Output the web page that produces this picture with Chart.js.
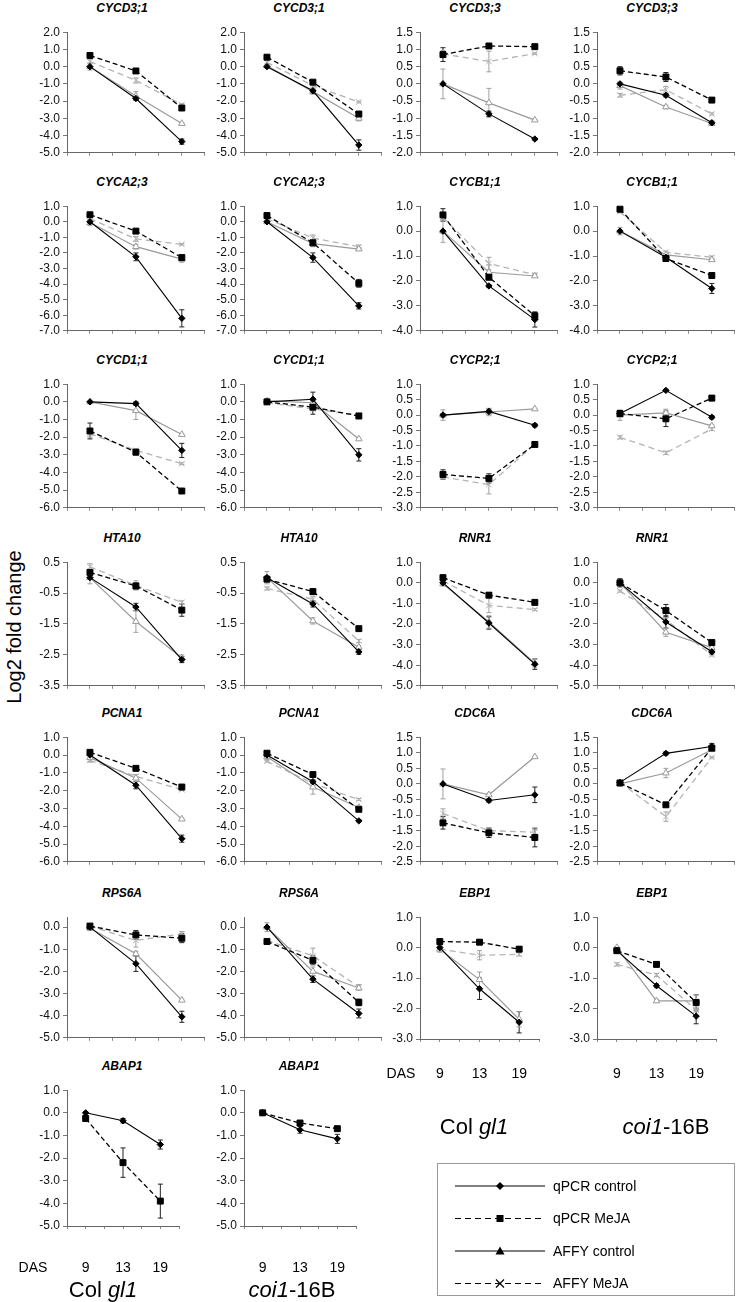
<!DOCTYPE html>
<html>
<head>
<meta charset="utf-8">
<script src="https://cdn.jsdelivr.net/npm/chart.js@4.4.1/dist/chart.umd.min.js"></script>
<style>
  body { margin: 0; background: #fff; font-family: "Liberation Sans", Arial, sans-serif; }
  #wrap { position: relative; width: 740px; height: 1302px; overflow: hidden; }
  canvas { position: absolute; }
  .title { position: absolute; width: 120px; text-align: center; font: bold italic 12px "Liberation Sans", Arial, sans-serif; line-height: 16px; }
  .lbl { position: absolute; white-space: nowrap; transform: translate(-50%, -50%); color: #000; }
  .das { font-size: 14px; }
  .grp { font-size: 22px; }
  #ylab { position: absolute; left: 14px; top: 627px; font-size: 20px; white-space: nowrap; transform: translate(-50%, -50%) rotate(-90deg); }
</style>
</head>
<body>
<div id="wrap">
  <div id="ylab">Log2 fold change</div>
</div>
<script>
// panels are read row by row, four per row (Col gl1, coi1-16B, Col gl1, coi1-16B)
const panelTitles = [
  'CYCD3;1', 'CYCD3;1', 'CYCD3;3', 'CYCD3;3',
  'CYCA2;3', 'CYCA2;3', 'CYCB1;1', 'CYCB1;1',
  'CYCD1;1', 'CYCD1;1', 'CYCP2;1', 'CYCP2;1',
  'HTA10', 'HTA10', 'RNR1', 'RNR1',
  'PCNA1', 'PCNA1', 'CDC6A', 'CDC6A',
  'RPS6A', 'RPS6A', 'EBP1', 'EBP1',
  'ABAP1', 'ABAP1'
];
const das = ['9', '13', '19'];
const seriesNames = ['qPCR control', 'qPCR MeJA', 'AFFY control', 'AFFY MeJA'];

const qpcrControl = [
  [0, -1.85, -4.35], [0, -1.4, -4.55], [0, -0.87, -1.6], [0, -0.33, -1.13],
  [0, -2.25, -6.2], [0, -2.3, -5.4], [0, -2.2, -3.55], [0, -1.05, -2.3],
  [0, -0.1, -2.75], [0, 0.15, -3.0], [0, 0.12, -0.33], [0.05, 0.8, -0.07],
  [0, -0.95, -2.65], [0, -0.85, -2.4], [0, -1.95, -3.95], [0, -1.9, -3.35],
  [0, -1.7, -4.7], [0, -1.5, -3.7], [0, -0.53, -0.35], [0.05, 0.98, 1.2],
  [0, -1.65, -4.05], [0, -2.35, -3.9], [0, -1.35, -2.45], [-0.1, -1.25, -2.25],
  [0, -0.35, -1.4], [0, -0.75, -1.15]
];
const qpcrMeja = [
  [0.65, -0.25, -2.4], [0.55, -0.9, -2.75], [0.85, 1.1, 1.08], [0.38, 0.2, -0.47],
  [0.45, -0.6, -2.3], [0.4, -1.35, -3.95], [0.65, -1.85, -3.4], [0.88, -1.1, -1.78],
  [-1.65, -2.85, -5.05], [0, -0.3, -0.8], [-1.92, -2.05, -0.95], [0.05, -0.12, 0.55],
  [0.17, -0.27, -1.05], [-0.05, -0.45, -1.65], [0.25, -0.6, -0.95], [0, -1.35, -2.9],
  [0.15, -0.75, -1.8], [0.1, -1.1, -3.05], [-1.25, -1.57, -1.72], [0.03, -0.67, 1.15],
  [0.05, -0.35, -0.5], [-0.65, -1.5, -3.4], [0.2, 0.18, -0.05], [-0.1, -0.55, -1.8],
  [-0.25, -2.2, -3.9], [0, -0.45, -0.7]
];
const affyControl = [
  [0, -1.7, -3.3], [0.05, -1.45, -3.0], [0, -0.55, -1.05], [-0.05, -0.67, -1.15],
  [-0.05, -1.6, -2.4], [0, -1.4, -1.75], [0, -1.65, -1.8], [0, -0.95, -1.15],
  [0, -0.5, -1.85], [0.05, -0.05, -2.1], [0, 0.1, 0.2], [0, 0.07, -0.35],
  [0, -1.42, -2.6], [0, -1.4, -2.25], [-0.05, -1.9, -3.9], [0, -2.4, -3.15],
  [-0.15, -1.3, -3.6], [-0.1, -1.8, -2.95], [0, -0.35, 0.87], [0, 0.35, 1.1],
  [-0.05, -1.2, -3.3], [0, -2.0, -2.75], [-0.05, -1.05, -2.35], [0, -1.75, -1.75],
  [null, null, null], [null, null, null]
];
const affyMeja = [
  [0.3, -0.8, -2.2], [0.25, -1.1, -2.05], [0.87, 0.65, 0.88], [-0.33, -0.17, -0.87],
  [0.2, -1.1, -1.45], [0.2, -1.05, -1.6], [0.55, -1.3, -1.75], [0.78, -0.85, -1.05],
  [-1.8, -2.75, -3.5], [-0.05, -0.4, -0.75], [-2.0, -2.25, -0.95], [-0.72, -1.22, -0.45],
  [0.35, -0.25, -0.8], [-0.35, -0.7, -2.05], [0.1, -1.1, -1.3], [-0.4, -1.8, -3.5],
  [-0.3, -1.2, -1.95], [-0.35, -1.6, -2.5], [-0.95, -1.5, -1.55], [0.05, -1.05, 0.85],
  [0.05, -0.6, -0.3], [-0.6, -1.3, -2.7], [-0.05, -0.25, -0.22], [-0.55, -0.9, -2.05],
  [null, null, null], [null, null, null]
];

// half-length of the error bars
const qpcrControlErr = [
  [0, 0.1, 0.15], [0, 0.05, 0.3], [0, 0.08, 0.03], [0.03, 0.05, 0.05],
  [0, 0.25, 0.55], [0, 0.3, 0.2], [0, 0.05, 0.3], [0, 0.05, 0.2],
  [0, 0.1, 0.4], [0.05, 0.4, 0.35], [0.05, 0.08, 0.05], [0.1, 0.03, 0.05],
  [0, 0.12, 0.1], [0, 0.1, 0.08], [0, 0.3, 0.25], [0.2, 0.3, 0.1],
  [0, 0.2, 0.2], [0, 0.1, 0.05], [0, 0.05, 0.25], [0.05, 0.05, 0.1],
  [0, 0.35, 0.25], [0, 0.15, 0.2], [0.05, 0.35, 0.35], [0.05, 0.05, 0.25],
  [0.05, 0.1, 0.2], [0.05, 0.15, 0.2]
];
const qpcrMejaErr = [
  [0.05, 0.1, 0.1], [0.05, 0.05, 0.15], [0.2, 0.02, 0.02], [0.12, 0.13, 0.05],
  [0.05, 0.1, 0.15], [0.05, 0.2, 0.25], [0.25, 0.1, 0.15], [0.05, 0.05, 0.08],
  [0.45, 0.15, 0.03], [0.05, 0.4, 0.15], [0.15, 0.15, 0.05], [0.05, 0.25, 0.08],
  [0.05, 0.1, 0.2], [0.05, 0.03, 0.05], [0.05, 0.1, 0.1], [0.05, 0.3, 0.05],
  [0.05, 0.05, 0.08], [0.05, 0.05, 0.05], [0.2, 0.15, 0.3], [0.03, 0.05, 0.05],
  [0.05, 0.2, 0.2], [0.08, 0.2, 0.15], [0.02, 0.08, 0.08], [0.03, 0.05, 0.25],
  [0.05, 0.65, 0.75], [0.05, 0.1, 0.1]
];
const affyControlErr = [
  [0.2, 0.25, 0.05], [0.1, 0.15, 0.15], [0.43, 0.42, 0.02], [0.1, 0.05, 0.05],
  [0.2, 0.15, 0.2], [0.1, 0.2, 0.1], [0.45, 0.3, 0.05], [0.15, 0.05, 0.05],
  [0.05, 0.5, 0.05], [0.05, 0.1, 0.05], [0.17, 0.12, 0.02], [0.17, 0.12, 0.05],
  [0.2, 0.35, 0.1], [0.2, 0.1, 0.05], [0.1, 0.3, 0.2], [0.1, 0.2, 0.05],
  [0.2, 0.2, 0.05], [0.15, 0.4, 0.05], [0.48, 0.05, 0.02], [0.03, 0.15, 0.05],
  [0.1, 0.1, 0.05], [0.2, 0.2, 0.1], [0.1, 0.25, 0.25], [0.03, 0.05, 0.2],
  [0, 0, 0], [0, 0, 0]
];
const affyMejaErr = [
  [0.1, 0.15, 0.05], [0.1, 0.15, 0.05], [0.1, 0.3, 0.02], [0.05, 0.1, 0.03],
  [0.1, 0.15, 0.05], [0.1, 0.2, 0.1], [0.1, 0.25, 0.05], [0.05, 0.05, 0.05],
  [0.2, 0.1, 0.05], [0.05, 0.1, 0.05], [0.05, 0.3, 0.05], [0.05, 0.05, 0.05],
  [0.1, 0.15, 0.05], [0.05, 0.1, 0.05], [0.05, 0.35, 0.05], [0.05, 0.1, 0.05],
  [0.1, 0.1, 0.05], [0.05, 0.1, 0.05], [0.15, 0.1, 0.1], [0.03, 0.15, 0.02],
  [0.05, 0.3, 0.1], [0.05, 0.35, 0.1], [0.05, 0.15, 0.05], [0.05, 0.05, 0.05],
  [0, 0, 0], [0, 0, 0]
];

// y axis range and tick step of every panel
const yMin = [-5, -5, -2, -2, -7, -7, -4, -4, -6, -6, -3, -3, -3.5, -3.5, -5, -5, -6, -6, -2.5, -2.5, -5, -5, -3, -3, -5, -5];
const yMax = [2, 2, 1.5, 1.5, 1, 1, 1, 1, 1, 1, 1, 1, 0.5, 0.5, 1, 1, 1, 1, 1.5, 1.5, 0.45, 0.45, 1, 1, 1, 1];
const yStep = [1, 1, 0.5, 0.5, 1, 1, 1, 1, 1, 1, 0.5, 0.5, 1, 1, 1, 1, 1, 1, 0.5, 0.5, 1, 1, 1, 1, 1, 1];

// layout
const colAxis = [67, 244, 420, 597];
const rowTop = [31, 205, 383, 561, 736, 916, 1089];
const rowBottom = [154, 332, 509, 687, 863, 1039, 1226];
const dasPanels = { 22: 1073, 23: 1073, 24: 1267, 25: 1267 };
const PLOT_W = 139, Y_W = 52, PAD_T = 9, PAD_B = 5;

Chart.defaults.font.family = '"Liberation Sans", Arial, sans-serif';

const styles = [
  { color: '#000', dash: [], pointStyle: 'rectRot', radius: 3.2, fill: '#000', width: 1.1 },
  { color: '#000', dash: [5, 3], pointStyle: 'rect', radius: 4.2, fill: '#000', width: 1.3 },
  { color: '#9a9a9a', dash: [], pointStyle: 'triangle', radius: 3.8, fill: '#fff', width: 1.2 },
  { color: '#b4b4b4', dash: [6, 4], pointStyle: 'crossRot', radius: 4, fill: '#b4b4b4', width: 1.3 }
];

const errorBars = {
  id: 'errorBars',
  beforeDatasetsDraw(chart) {
    const ctx = chart.ctx, ys = chart.scales.y;
    ctx.save();
    chart.data.datasets.forEach((ds, di) => {
      const meta = chart.getDatasetMeta(di);
      ds.errors.forEach((e, k) => {
        const v = ds.data[k].y;
        if (v == null || !e) return;
        const x = meta.data[k].x;
        const y1 = ys.getPixelForValue(v + e), y2 = ys.getPixelForValue(v - e);
        ctx.strokeStyle = ds.errColor;
        ctx.lineWidth = 1;
        ctx.beginPath();
        ctx.moveTo(x, y1); ctx.lineTo(x, y2);
        ctx.moveTo(x - 2.5, y1); ctx.lineTo(x + 2.5, y1);
        ctx.moveTo(x - 2.5, y2); ctx.lineTo(x + 2.5, y2);
        ctx.stroke();
      });
    });
    ctx.restore();
  }
};

const wrap = document.getElementById('wrap');

function addLabel(html, cls, cx, cy) {
  const d = document.createElement('div');
  d.className = 'lbl ' + cls;
  d.innerHTML = html;
  d.style.left = cx + 'px';
  d.style.top = cy + 'px';
  wrap.appendChild(d);
}

panelTitles.forEach((title, i) => {
  const row = Math.floor(i / 4), col = i % 4;
  const top = rowTop[row], plotH = rowBottom[row] - rowTop[row];
  const dasY = dasPanels[i];
  const xh = dasY ? 48 : 4;

  const t = document.createElement('div');
  t.className = 'title';
  t.textContent = title;
  t.style.left = (colAxis[col] + 55 - 60) + 'px';
  t.style.top = (top - 31) + 'px';
  wrap.appendChild(t);

  const cv = document.createElement('canvas');
  cv.width = Y_W + PLOT_W + 4;
  cv.height = PAD_T + plotH + xh + PAD_B;
  cv.style.left = (colAxis[col] - Y_W) + 'px';
  cv.style.top = (top - PAD_T) + 'px';
  wrap.appendChild(cv);

  const series = [
    [qpcrControl[i], qpcrControlErr[i]],
    [qpcrMeja[i], qpcrMejaErr[i]],
    [affyControl[i], affyControlErr[i]],
    [affyMeja[i], affyMejaErr[i]]
  ];
  const ticks = [];
  for (let v = yMin[i]; v <= yMax[i] + 1e-9; v += yStep[i]) ticks.push(Math.round(v * 10) / 10);

  new Chart(cv, {
    type: 'line',
    data: {
      datasets: series.map(([vals, errs], s) => ({
        label: seriesNames[s],
        data: vals.map((v, k) => ({ x: k + 1, y: v })),
        errors: errs,
        errColor: s < 2 ? '#222' : '#a0a0a0',
        borderColor: styles[s].color,
        borderDash: styles[s].dash,
        borderWidth: styles[s].width,
        pointStyle: styles[s].pointStyle,
        pointRadius: styles[s].radius,
        pointBackgroundColor: styles[s].fill,
        pointBorderColor: styles[s].color,
        pointBorderWidth: 1,
        tension: 0,
        clip: false
      }))
    },
    options: {
      responsive: false,
      animation: false,
      events: [],
      layout: { padding: { top: PAD_T, right: 4, bottom: PAD_B, left: 0 } },
      plugins: { legend: { display: false }, tooltip: { enabled: false } },
      scales: {
        x: {
          type: 'linear', min: 0.5, max: 3.5,
          afterBuildTicks: s => { s.ticks = [0.5, 1, 1.5, 2, 2.5, 3, 3.5].map(v => ({ value: v })); },
          afterFit: s => { s.height = xh; },
          ticks: {
            display: !!dasY,
            autoSkip: false, maxRotation: 0,
            padding: dasY ? dasY - 7 - rowBottom[row] - 3 : 0,
            color: '#000', font: { size: 14 },
            callback: v => Number.isInteger(v) ? das[v - 1] : ''
          },
          grid: { drawOnChartArea: false, tickLength: 3, color: '#8a8a8a' },
          border: { color: '#666' }
        },
        y: {
          min: yMin[i], max: yMax[i],
          afterBuildTicks: s => { s.ticks = ticks.map(v => ({ value: v })); },
          afterFit: s => { s.width = Y_W; },
          ticks: { autoSkip: false, color: '#111', font: { size: 12 }, padding: 3, callback: v => v.toFixed(1) },
          grid: { drawOnChartArea: false, tickLength: 4, color: '#777' },
          border: { color: '#666' }
        }
      }
    },
    plugins: [errorBars]
  });
});

// DAS captions and genotype labels
addLabel('DAS', 'das', 401, 1073);
addLabel('DAS', 'das', 33, 1267);
addLabel('Col <i>gl1</i>', 'grp', 474, 1127);
addLabel('<i>coi1</i>-16B', 'grp', 666, 1127);
addLabel('Col <i>gl1</i>', 'grp', 103, 1290);
addLabel('<i>coi1</i>-16B', 'grp', 292, 1290);

// legend box
const lg = document.createElement('canvas');
lg.width = 300; lg.height = 136;
lg.style.left = '436px'; lg.style.top = '1162px';
wrap.appendChild(lg);
const c = lg.getContext('2d');
c.strokeStyle = '#9a9a9a'; c.lineWidth = 1;
c.strokeRect(1.5, 1.5, 297, 132);
c.font = '14px "Liberation Sans", Arial, sans-serif';
c.textBaseline = 'middle';
seriesNames.forEach((name, s) => {
  const y = 24 + s * 32.5;
  c.strokeStyle = '#000'; c.fillStyle = '#000';
  c.lineWidth = 1.2;
  c.setLineDash(s % 2 ? [6, 4] : []);
  c.beginPath(); c.moveTo(19, y); c.lineTo(109, y); c.stroke();
  c.setLineDash([]);
  const mx = 64;
  c.beginPath();
  if (s === 0) { c.moveTo(mx - 4, y); c.lineTo(mx, y - 4); c.lineTo(mx + 4, y); c.lineTo(mx, y + 4); c.closePath(); c.fill(); }
  if (s === 1) { c.fillRect(mx - 3.5, y - 3.5, 7, 7); }
  if (s === 2) { c.moveTo(mx - 4.5, y + 3.5); c.lineTo(mx, y - 4.5); c.lineTo(mx + 4.5, y + 3.5); c.closePath(); c.fill(); }
  if (s === 3) { c.moveTo(mx - 4, y - 4); c.lineTo(mx + 4, y + 4); c.moveTo(mx + 4, y - 4); c.lineTo(mx - 4, y + 4); c.stroke(); }
  c.fillStyle = '#000';
  c.fillText(name, 117, y + 1);
});
</script>
</body>
</html>
